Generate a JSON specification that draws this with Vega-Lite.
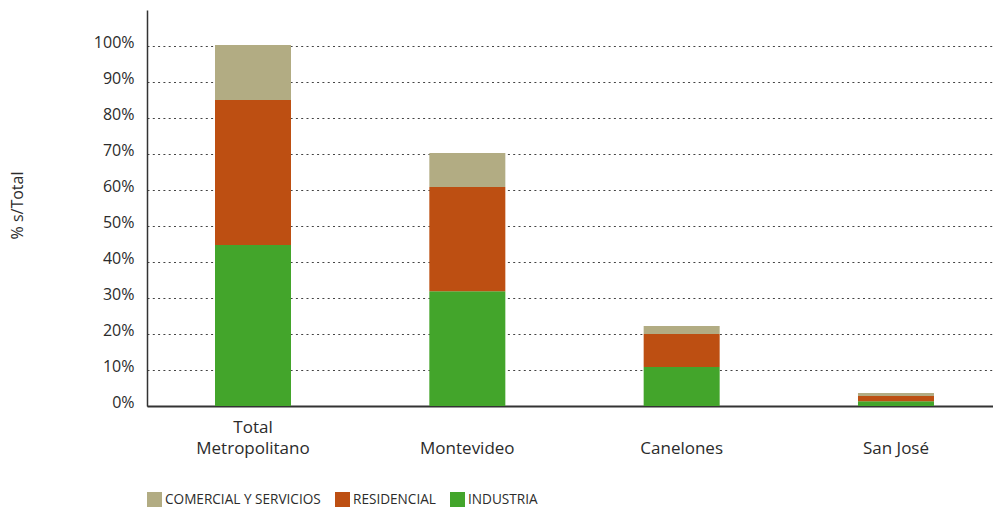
{
  "$schema": "https://vega.github.io/schema/vega-lite/v6.json",
  "width": 846,
  "height": 396,
  "autosize": {"type": "none"},
  "padding": {"left": 147, "top": 10, "right": 0, "bottom": 101},
  "background": "white",
  "config": {
    "font": "Open Sans",
    "view": {"stroke": null}
  },
  "data": {
    "values": [
      {"zona": "Total Metropolitano", "sector": "INDUSTRIA", "valor": 0.447, "ord": 1},
      {"zona": "Total Metropolitano", "sector": "RESIDENCIAL", "valor": 0.403, "ord": 2},
      {"zona": "Total Metropolitano", "sector": "COMERCIAL Y SERVICIOS", "valor": 0.153, "ord": 3},
      {"zona": "Montevideo", "sector": "INDUSTRIA", "valor": 0.319, "ord": 1},
      {"zona": "Montevideo", "sector": "RESIDENCIAL", "valor": 0.289, "ord": 2},
      {"zona": "Montevideo", "sector": "COMERCIAL Y SERVICIOS", "valor": 0.095, "ord": 3},
      {"zona": "Canelones", "sector": "INDUSTRIA", "valor": 0.108, "ord": 1},
      {"zona": "Canelones", "sector": "RESIDENCIAL", "valor": 0.092, "ord": 2},
      {"zona": "Canelones", "sector": "COMERCIAL Y SERVICIOS", "valor": 0.022, "ord": 3},
      {"zona": "San José", "sector": "INDUSTRIA", "valor": 0.013, "ord": 1},
      {"zona": "San José", "sector": "RESIDENCIAL", "valor": 0.015, "ord": 2},
      {"zona": "San José", "sector": "COMERCIAL Y SERVICIOS", "valor": 0.008, "ord": 3}
    ]
  },
  "mark": {"type": "bar"},
  "encoding": {
    "x": {
      "field": "zona",
      "type": "nominal",
      "sort": ["Total Metropolitano", "Montevideo", "Canelones", "San José"],
      "scale": {"paddingInner": 0.6454, "paddingOuter": 0.2963, "align": 0.5354},
      "axis": {
        "title": null,
        "labelAngle": 0,
        "labelExpr": "datum.value == 'Total Metropolitano' ? ['Total', 'Metropolitano'] : ['', datum.value]",
        "labelBaseline": "bottom",
        "labelPadding": 30,
        "labelFontSize": 17,
        "labelColor": "#2b2b2b",
        "labelLineHeight": 21,
        "ticks": false,
        "domainColor": "#333333",
        "domainWidth": 2
      }
    },
    "y": {
      "field": "valor",
      "type": "quantitative",
      "stack": "zero",
      "scale": {"domain": [0, 1.1], "nice": false},
      "axis": {
        "title": "% s/Total",
        "titleFontSize": 16,
        "titleFontWeight": "normal",
        "titleColor": "#2b2b2b",
        "titleX": -122,
        "titleY": 195,
        "titleAngle": -90,
        "titleBaseline": "bottom",
        "titleAlign": "center",
        "values": [0, 0.1, 0.2, 0.3, 0.4, 0.5, 0.6, 0.7, 0.8, 0.9, 1.0],
        "format": ".0%",
        "labelFontSize": 16,
        "labelColor": "#2b2b2b",
        "labelPadding": 13,
        "labelOffset": -4,
        "ticks": false,
        "domainColor": "#333333",
        "domainWidth": 1.5,
        "grid": true,
        "gridColor": "#444444",
        "gridDash": [2, 3.3],
        "gridWidth": 1
      }
    },
    "color": {
      "field": "sector",
      "type": "nominal",
      "scale": {
        "domain": ["COMERCIAL Y SERVICIOS", "RESIDENCIAL", "INDUSTRIA"],
        "range": ["#B2AC83", "#BD4F12", "#43A52B"]
      },
      "legend": {
        "title": null,
        "orient": "none",
        "direction": "horizontal",
        "legendX": 0,
        "legendY": 482,
        "symbolType": "square",
        "symbolSize": 225,
        "symbolStrokeWidth": 0,
        "symbolOpacity": 1,
        "labelFontSize": 13.6,
        "labelColor": "#2b2b2b",
        "labelOffset": 3,
        "labelBaseline": "middle",
        "columnPadding": 14
      }
    },
    "order": {"field": "ord", "type": "quantitative"}
  }
}
